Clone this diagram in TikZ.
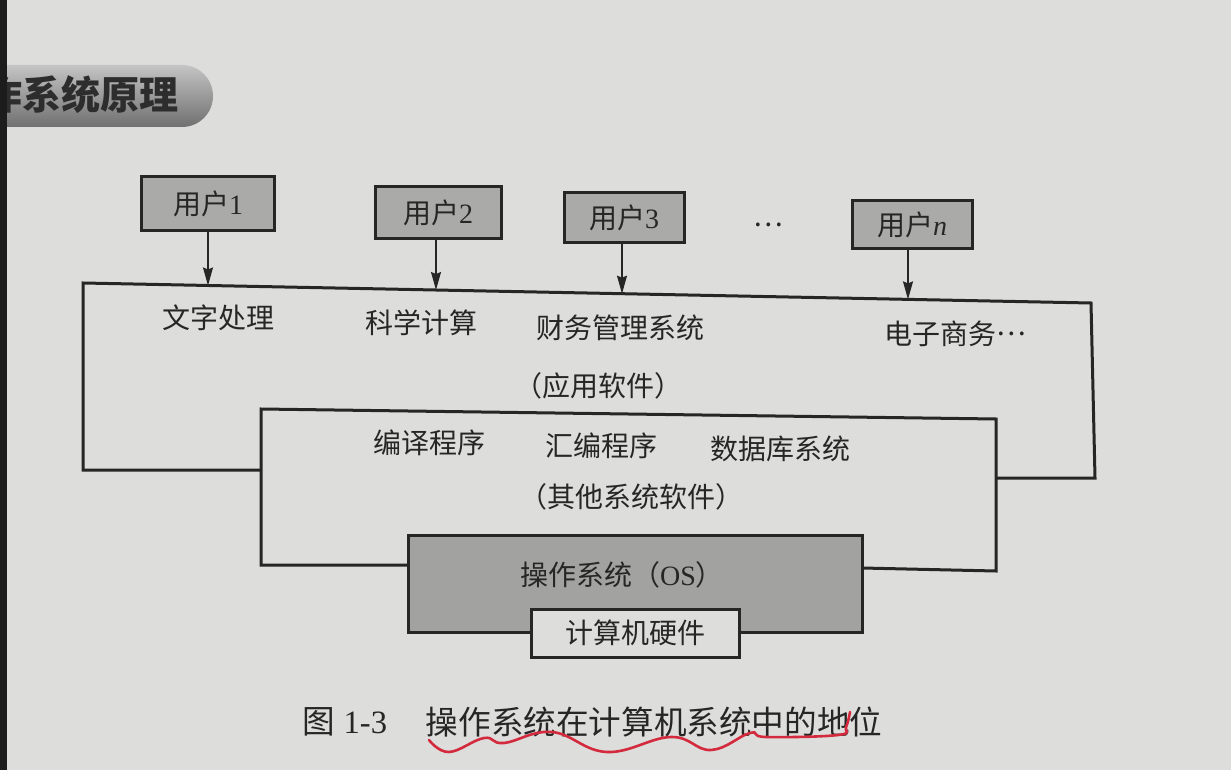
\documentclass[tikz,border=0pt]{standalone}
\usepackage{fontspec}
\setmainfont{Liberation Serif}
\newfontfamily\song{Noto Sans CJK SC}
\newfontfamily\hei{Noto Sans CJK SC}
\usetikzlibrary{arrows.meta}
\definecolor{page}{RGB}{221,221,219}
\definecolor{boxgray}{RGB}{170,170,168}
\definecolor{osgray}{RGB}{162,162,160}
\definecolor{ink}{RGB}{38,38,38}
\definecolor{redpen}{RGB}{212,42,62}
\definecolor{strip}{RGB}{28,28,28}
\definecolor{tabtop}{RGB}{196,196,196}
\definecolor{tabmid}{RGB}{158,158,158}
\definecolor{tabbot}{RGB}{112,112,112}
\definecolor{tabtext}{RGB}{45,45,45}
\tikzset{
  frame/.style={draw=ink, line width=1.5pt, line join=miter},
  userbox/.style={draw=ink, line width=1.5pt, fill=boxgray, inner sep=0pt, text=ink, font=\fontsize{14}{14}\selectfont},
  lbl/.style={inner sep=0pt, text=ink, font=\fontsize{14}{15}\selectfont\song},
  arr/.style={draw=ink, line width=0.8pt, -{Stealth[length=9pt,width=5pt,inset=1pt]}},
  capt/.style={inner sep=0pt, text=ink, font=\fontsize{16.3}{17}\selectfont},
}
\newcommand{\middots}{\raisebox{0.32em}{…}}
\begin{document}
\begin{tikzpicture}[x=0.5pt,y=-0.5pt]
\useasboundingbox (0,0) rectangle (1231,770);
\fill[page] (0,0) rectangle (1231,770);
% header tab
\begin{scope}
  \clip (7,0) rectangle (1231,770);
  \shade[top color=tabtop, middle color=tabmid, bottom color=tabbot, rounded corners=15.5pt] (-40,65) rectangle (213,127);
  \node[anchor=east, inner sep=0pt, text=tabtext, font=\fontsize{19.5}{20}\selectfont\hei\bfseries] (hdr) at (179,95) {作系统原理};
\end{scope}
\fill[strip] (0,0) rectangle (7,770);
% users
\node[userbox, minimum width=66.5pt, minimum height=27pt] (u1) at (208,204) {{\song 用户}1};
\node[userbox, minimum width=63pt, minimum height=26pt] (u2) at (438,213) {{\song 用户}2};
\node[userbox, minimum width=60pt, minimum height=25pt] (u3) at (624,218) {{\song 用户}3};
\node[userbox, minimum width=60pt, minimum height=24pt] (un) at (912,225) {{\song 用户}\textit{n}};
\node[lbl] (dots) at (768,225) {…};
% application frame
\coordinate (A1) at (261,470);
\coordinate (A2) at (83,470);
\coordinate (A3) at (83,283);
\coordinate (A4) at (1091,303);
\coordinate (A5) at (1095,478);
\coordinate (A6) at (996,478);
\draw[frame] (A1) -- (A2) -- (A3) -- (A4) -- (A5) -- (A6);
% arrow ends on the top line
\coordinate (a1) at (208,285.5);
\coordinate (a2) at (436,290);
\coordinate (a3) at (622,293.7);
\coordinate (an) at (908,299.4);
\draw[arr] (u1.south -| a1) -- (a1);
\draw[arr] (u2.south -| a2) -- (a2);
\draw[arr] (u3.south -| a3) -- (a3);
\draw[arr] (un.south -| an) -- (an);
% application texts
\node[lbl] (t1) at (218,318) {文字处理};
\node[lbl] (t2) at (421,323) {科学计算};
\node[lbl] (t3) at (620,328) {财务管理系统};
\node[lbl, anchor=west] (t4) at (884,334) {电子商务\middots};
\node[lbl] (t5) at (598,386) {（应用软件）};
% system software frame
\coordinate (S1) at (408,565);
\coordinate (S2) at (261,565);
\coordinate (S3) at (261,409);
\coordinate (S4) at (996,419);
\coordinate (S5) at (996,571);
\coordinate (S6) at (862,568);
\draw[frame] (S1) -- (S2) -- (S3) -- (S4) -- (S5) -- (S6);
\node[lbl] (s1) at (429,443) {编译程序};
\node[lbl] (s2) at (601,446) {汇编程序};
\node[lbl] (s3) at (780,449) {数据库系统};
\node[lbl] (s4) at (631,497) {（其他系统软件）};
% OS
\node[draw=ink, line width=1.5pt, fill=osgray, minimum width=227pt, minimum height=48.5pt, inner sep=0pt] (os) at (635,583.5) {};
\node[lbl] (ostext) at (622,575) {操作系统（{\rmfamily OS}）};
% hardware
\node[draw=ink, line width=1.5pt, fill=page, minimum width=104pt, minimum height=24pt, inner sep=0pt, text=ink, font=\fontsize{14}{15}\selectfont\song] (hw) at (635,633) {计算机硬件};
% caption
\node[capt] (c1) at (345,722) {{\song 图} 1-3};
\node[capt, font=\fontsize{16.3}{17}\selectfont\song] (c2) at (654,722) {操作系统在计算机系统中的地位};
\draw[redpen, line width=1.3pt, line cap=round] plot[smooth, tension=0.7] coordinates {(429,740) (449,752) (484,738) (504,743) (552,732) (607,752) (671,737) (711,750) (750,733) (766,737) (838,735) (846,727) (850,712)};
\end{tikzpicture}
\end{document}
